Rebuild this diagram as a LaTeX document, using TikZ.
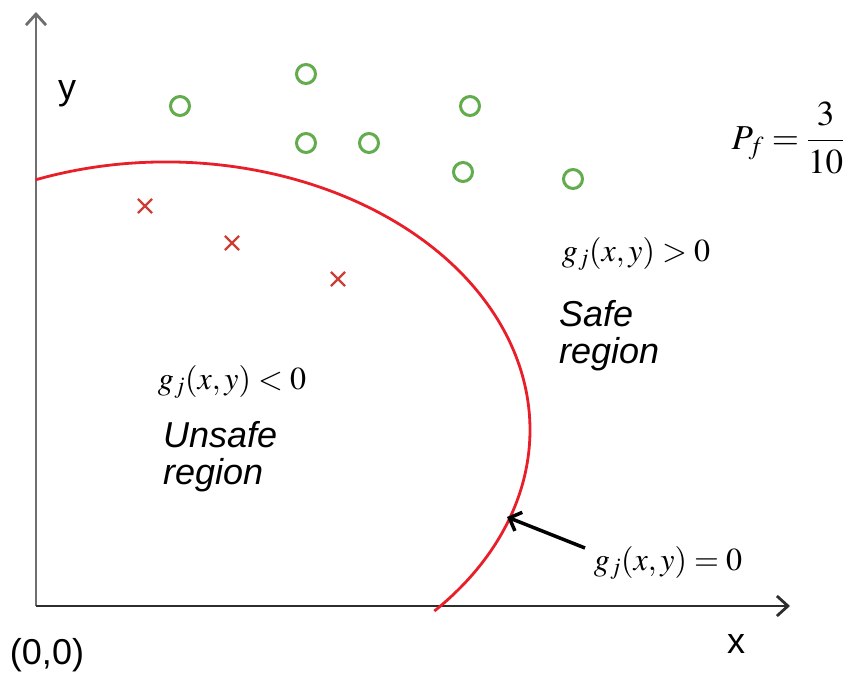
\documentclass[tikz,border=0pt]{standalone}
\usepackage{mathptmx}
\usepackage{fontspec}
\setmainfont{Liberation Serif}
\setsansfont{Liberation Sans}
\usetikzlibrary{arrows.meta,shapes.misc}
\definecolor{safegreen}{RGB}{98,172,78}
\definecolor{failred}{RGB}{204,62,56}
\definecolor{curvered}{RGB}{232,30,40}
\definecolor{yaxisgray}{RGB}{110,110,110}
\definecolor{xaxisgray}{RGB}{45,45,45}
\begin{document}
\begin{tikzpicture}[x=1pt,y=-1pt,
  axisline/.style={line width=2.6pt,-{Straight Barb[length=11pt,width=20pt,line width=2.8pt]}},
  safept/.style={circle,draw=safegreen,line width=3pt,minimum size=19pt,inner sep=0pt},
  failpt/.style={cross out,draw=failred,line width=2.2pt,minimum size=12pt,inner sep=0pt},
  sanslabel/.style={font=\fontsize{36}{36}\selectfont\sffamily,inner sep=0pt},
  regionlabel/.style={font=\fontsize{36}{37}\selectfont\sffamily\itshape,align=left,inner sep=0pt,anchor=north west},
  mathlabel/.style={font=\fontsize{32}{34}\selectfont,inner sep=0pt},
  pointer/.style={line width=3.5pt,-{Straight Barb[length=10pt,width=20pt,line width=3.5pt]}}]
\useasboundingbox (0,0) rectangle (848,674);
% axes
\coordinate (O) at (36,606);
\coordinate (ytip) at (36,12);
\coordinate (xtip) at (790,606);
\draw[axisline,yaxisgray] (O) -- (ytip);
\draw[axisline,xaxisgray] (O) -- (xtip);
% limit state curve
\draw[curvered,line width=2.8pt] (166,430) ++(111:364pt and 268pt) arc[start angle=111,end angle=-42.5,x radius=364pt,y radius=268pt];
% safe points
\node[safept] (s1) at (180,106) {};
\node[safept] (s2) at (306,74) {};
\node[safept] (s3) at (306,143) {};
\node[safept] (s4) at (369,143) {};
\node[safept] (s5) at (470,106) {};
\node[safept] (s6) at (463,172) {};
\node[safept] (s7) at (573,179) {};
% failure points
\node[failpt] (f1) at (145,206) {};
\node[failpt] (f2) at (232,243) {};
\node[failpt] (f3) at (338,279) {};
% labels
\node[sanslabel] (ylab) at (67,94) {y};
\node[sanslabel] (xlab) at (736,644) {x};
\node[sanslabel] (olab) at (47,655) {(0,0)};
\node[mathlabel,font=\fontsize{35}{36}\selectfont] (pf) at (788,138) {$\displaystyle P_f=\frac{3}{10}$};
\node[mathlabel] (gpos) at (636,254) {$g_j(x,y)>0$};
\node[mathlabel] (gneg) at (232,382) {$g_j(x,y)<0$};
\node[mathlabel] (gzero) at (668,563) {$g_j(x,y)=0$};
\node[regionlabel] (safe) at (559,300) {Safe\\region};
\node[regionlabel] (unsafe) at (163,421) {Unsafe\\region};
% pointer
\coordinate (ptrS) at (585,548);
\coordinate (ptrE) at (507,517);
\draw[pointer] (ptrS) -- (ptrE);
\end{tikzpicture}
\end{document}
